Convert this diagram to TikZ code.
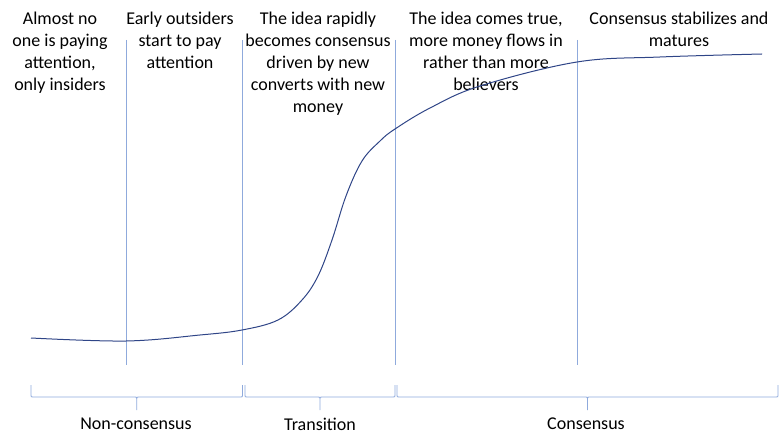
\documentclass[tikz,border=0pt]{standalone}
\usepackage{fontspec}
\setmainfont{Carlito}
\usetikzlibrary{calc}
\definecolor{rulerblue}{RGB}{143,170,220}
\definecolor{curveblue}{RGB}{47,69,135}
\tikzset{
  phase/.style={align=center,inner sep=0pt,anchor=north,font=\fontsize{18}{22}\selectfont},
  era/.style={inner sep=0pt,font=\fontsize{18}{22}\selectfont},
  divider/.style={draw=rulerblue,line width=0.8pt},
  span/.style={draw=rulerblue,line width=0.8pt},
}
\newcommand\spanbrace[2]{%
  \draw[span] let \p1=(#1), \p2=(#2), \n1={0.5*(\x1+\x2)} in
    (\p1) -- (\x1,\y1-10pt) .. controls (\x1,\y1-12pt) .. (\x1+2pt,\y1-12pt)
    -- (\n1-2pt,\y1-12pt) .. controls (\n1,\y1-12pt) .. (\n1,\y1-14pt) -- (\n1,\y1-25pt)
    (\n1,\y1-14pt) .. controls (\n1,\y1-12pt) .. (\n1+2pt,\y1-12pt)
    -- (\x2-2pt,\y1-12pt) .. controls (\x2,\y1-12pt) .. (\x2,\y1-10pt) -- (\p2);}
\begin{document}
\begin{tikzpicture}[x=1pt,y=-1pt]
\useasboundingbox (0,0) rectangle (781,446);
\node[phase] (noone) at (60,11.5) {Almost no\\one is paying\\attention,\\only insiders};
\node[phase] (outsiders) at (180,11.5) {Early outsiders\\start to pay\\attention};
\node[phase] (rapid) at (318,11.5) {The idea rapidly\\becomes consensus\\driven by new\\converts with new\\money};
\node[phase] (cometrue) at (486,11.5) {The idea comes true,\\more money flows in\\rather than more\\believers};
\node[phase] (mature) at (679,11.5) {Consensus stabilizes and\\matures};
\foreach \x [count=\i] in {126,242,395,577} {
  \coordinate (top\i) at (\x,40);
  \coordinate (bot\i) at (\x,365);
  \draw[divider] (top\i) -- (bot\i);
}
\draw[curveblue,line width=1pt] plot[smooth,tension=0.6] coordinates {
  (31,338) (126,341) (200,335) (242,330) (278,320) (302,300)
  (318,276) (332,240) (346,196) (362,161) (380,141) (395,129)
  (430,108) (480,86) (577,62) (660,57) (762,54)};
\coordinate (b1) at (31,385);
\coordinate (b2) at (242.5,385);
\coordinate (b3) at (245,385);
\coordinate (b4) at (395,385);
\coordinate (b5) at (397,385);
\coordinate (b6) at (778,385);
\spanbrace{b1}{b2}
\spanbrace{b3}{b4}
\spanbrace{b5}{b6}
\node[era] (noncons) at (136,424) {Non-consensus};
\node[era] (transit) at (320,424) {Transition};
\node[era] (cons) at (586,424) {Consensus};
\end{tikzpicture}
\end{document}
